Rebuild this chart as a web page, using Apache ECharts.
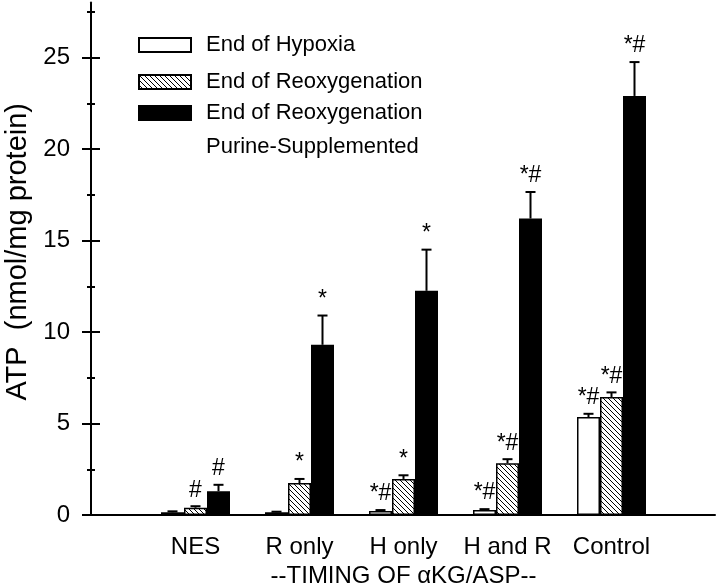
<!DOCTYPE html>
<html>
<head>
<meta charset="utf-8">
<script src="https://cdn.jsdelivr.net/npm/echarts@6/dist/echarts.min.js"></script>
<style>
html,body{margin:0;padding:0;background:#fff;}
#chart{width:720px;height:587px;}
</style>
</head>
<body>
<div id="chart"></div>
<script>
// ---- data ----
const categories = ['NES', 'R only', 'H only', 'H and R', 'Control'];
const seriesNames = ['End of Hypoxia', 'End of Reoxygenation', 'End of Reoxygenation\nPurine-Supplemented'];
const hypoxia = [0.15, 0.15, 0.22, 0.27, 5.35];
const hypoxiaErr = [0.05, 0.03, 0.05, 0.05, 0.18];
const reox = [0.4, 1.75, 1.97, 2.83, 6.45];
const reoxErr = [0.08, 0.22, 0.2, 0.22, 0.25];
const purine = [1.3, 9.3, 12.25, 16.2, 22.9];
const purineErr = [0.35, 1.6, 2.25, 1.45, 1.85];
const hypoxiaMarks = ['', '', '*#', '*#', '*#'];
const reoxMarks = ['#', '*', '*', '*#', '*#'];
const purineMarks = ['#', '*', '*', '*#', '*#'];
const majorTicks = [0, 5, 10, 15, 20, 25];
const minorTicks = [2.5, 7.5, 12.5, 17.5, 22.5, 27.5];
const yMax = 28;
const xTitle = '--TIMING OF \u03B1KG/ASP--';
const yTitle = 'ATP  (nmol/mg protein)';

// ---- styles ----
const FONT = 'Liberation Sans, Arial, Helvetica, sans-serif';
const BAR_W = 23;
const GRID_TOP = 2.6, GRID_BOTTOM = 72;

function hatchPattern() {
  const s = 5;
  const c = document.createElement('canvas');
  c.width = s; c.height = s;
  const g = c.getContext('2d');
  g.fillStyle = '#fff';
  g.fillRect(0, 0, s, s);
  g.strokeStyle = '#000';
  g.lineWidth = 1;
  g.beginPath();
  g.moveTo(-1, -1); g.lineTo(s + 1, s + 1);
  g.moveTo(-1, s - 1); g.lineTo(1, s + 1);
  g.moveTo(s - 1, -1); g.lineTo(s + 1, 1);
  g.stroke();
  return { image: c, repeat: 'repeat' };
}

function errorSeries(idx, means, errs, marks) {
  return {
    type: 'custom',
    name: 'err' + idx,
    xAxisIndex: 1,
    yAxisIndex: 4,
    z: 5,
    silent: true,
    data: means.map((m, i) => [i, m, errs[i]]),
    renderItem: function (params, api) {
      const i = api.value(0), m = api.value(1), e = api.value(2);
      const base = api.coord([i, m]);
      const top = api.coord([i, m + e]);
      const x = base[0] + (idx - 1) * BAR_W;
      const mark = marks[params.dataIndex];
      const children = [
        { type: 'line', shape: { x1: x, y1: base[1], x2: x, y2: top[1] }, style: { stroke: '#000', lineWidth: 2 } },
        { type: 'line', shape: { x1: x - 5, y1: top[1], x2: x + 5, y2: top[1] }, style: { stroke: '#000', lineWidth: 2 } }
      ];
      if (mark) {
        children.push({
          type: 'text',
          style: { text: mark, x: x, y: top[1] - 16, align: 'center', verticalAlign: 'middle',
                   fontSize: 23, fontFamily: FONT, fill: '#000' }
        });
      }
      return { type: 'group', children: children };
    }
  };
}

function tickAxis(values, len, inside, extra) {
  return Object.assign({
    type: 'value', gridIndex: 0, position: 'left', offset: 0, min: 0, max: yMax,
    axisLine: { show: false },
    axisTick: { show: true, inside: inside, length: len, customValues: values, lineStyle: { color: '#000', width: 2 } },
    axisLabel: { show: false },
    splitLine: { show: false }
  }, extra || {});
}

const chart = echarts.init(document.getElementById('chart'), null, { renderer: 'canvas' });
const option = {
  animation: false,
  backgroundColor: '#fff',
  textStyle: { fontFamily: FONT, color: '#000' },
  grid: [
    { left: 91, right: 5, top: GRID_TOP, bottom: GRID_BOTTOM, containLabel: false, outerBoundsMode: 'none' },
    { left: 143.5, right: 56.5, top: GRID_TOP, bottom: GRID_BOTTOM, containLabel: false, outerBoundsMode: 'none' }
  ],
  legend: [
    {
      data: [seriesNames[0], seriesNames[1]],
      orient: 'vertical', left: 138, top: 34, padding: 0,
      itemWidth: 52, itemHeight: 14, itemGap: 15, icon: 'rect',
      textStyle: { fontSize: 22, lineHeight: 22, fontFamily: FONT, color: '#000', padding: [0, 0, 0, 10] }
    },
    {
      data: [seriesNames[2]],
      orient: 'vertical', left: 138, top: 62, padding: 0,
      itemWidth: 52, itemHeight: 14, icon: 'rect',
      formatter: function (name) { return '\n' + name; },
      textStyle: { fontSize: 22, lineHeight: 34, fontFamily: FONT, color: '#000', padding: [0, 0, 0, 10] }
    }
  ],
  xAxis: [
    {
      type: 'value', gridIndex: 0, min: 0, max: 1,
      axisLine: { show: true, onZero: false, lineStyle: { color: '#000', width: 2 } },
      axisTick: { show: false }, axisLabel: { show: false }, splitLine: { show: false }
    },
    {
      type: 'category', gridIndex: 1, data: categories,
      axisLine: { show: false }, axisTick: { show: false },
      axisLabel: { interval: 0, fontSize: 24, fontFamily: FONT, color: '#000', margin: 20 },
      name: xTitle, nameLocation: 'middle', nameGap: 46,
      nameTextStyle: { fontSize: 24, fontFamily: FONT, color: '#000' }
    }
  ],
  yAxis: [
    tickAxis(majorTicks, 9, false, {
      axisLine: { show: true, onZero: false, lineStyle: { color: '#000', width: 2 } },
      axisLabel: { show: true, customValues: majorTicks, fontSize: 24, fontFamily: FONT, color: '#000', margin: 21 },
      name: yTitle, nameLocation: 'middle', nameGap: 54,
      nameTextStyle: { fontSize: 29, fontFamily: FONT, color: '#000', padding: [0, 0, 0, 14] }
    }),
    tickAxis(majorTicks, 9, true),
    tickAxis(minorTicks, 4, false),
    tickAxis(minorTicks, 4, true),
    { type: 'value', gridIndex: 1, min: 0, max: yMax, show: false }
  ],
  series: [
    {
      type: 'bar', name: seriesNames[0], xAxisIndex: 1, yAxisIndex: 4,
      data: hypoxia, barWidth: BAR_W, barGap: '0%',
      itemStyle: { color: '#fff', borderColor: '#000', borderWidth: 1.5 }
    },
    {
      type: 'bar', name: seriesNames[1], xAxisIndex: 1, yAxisIndex: 4,
      data: reox, barWidth: BAR_W, barGap: '0%',
      itemStyle: { color: hatchPattern(), borderColor: '#000', borderWidth: 1.5 }
    },
    {
      type: 'bar', name: seriesNames[2], xAxisIndex: 1, yAxisIndex: 4,
      data: purine, barWidth: BAR_W, barGap: '0%',
      itemStyle: { color: '#000', borderColor: '#000', borderWidth: 1.5 }
    },
    errorSeries(0, hypoxia, hypoxiaErr, hypoxiaMarks),
    errorSeries(1, reox, reoxErr, reoxMarks),
    errorSeries(2, purine, purineErr, purineMarks)
  ]
};
chart.setOption(option);
</script>
</body>
</html>
